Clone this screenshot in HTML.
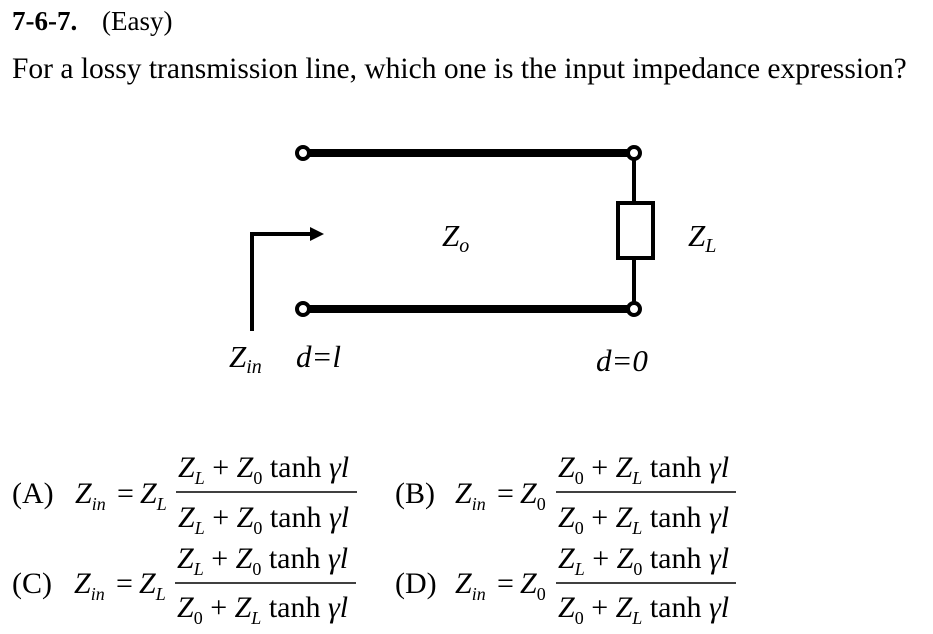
<!DOCTYPE html>
<html><head><style>body{margin:0;background:#fff}svg{display:block}text{font-family:"Liberation Serif",serif;fill:#000}</style></head><body>
<svg width="933" height="634" viewBox="0 0 933 634">
<text x="12" y="30" font-size="27" font-weight="bold">7-6-7.</text><text x="102" y="30" font-size="27">(Easy)</text>
<text x="12" y="78" font-size="29.5">For a lossy transmission line, which one is the input impedance expression?</text>
<g stroke="#000" fill="none">
<line x1="303" y1="153" x2="634" y2="153" stroke-width="8"/>
<line x1="303" y1="309" x2="634" y2="309" stroke-width="8"/>
<line x1="634" y1="153" x2="634" y2="309" stroke-width="4"/>
<rect x="618" y="203" width="35" height="55" stroke-width="4" fill="#fff"/>
<circle cx="303" cy="153" r="6" stroke-width="4" fill="#fff"/>
<circle cx="634" cy="153" r="6" stroke-width="4" fill="#fff"/>
<circle cx="303" cy="309" r="6" stroke-width="4" fill="#fff"/>
<circle cx="634" cy="309" r="6" stroke-width="4" fill="#fff"/>
<polyline points="252,331 252,234 312,234" stroke-width="4"/>
</g>
<polygon points="310,227 324,234 310,241" fill="#000"/>
<g font-style="italic" font-size="31">
<text x="442" y="246">Z<tspan font-size="20" dy="6">o</tspan></text>
<text x="688" y="246">Z<tspan font-size="20" dy="6">L</tspan></text>
<text x="229" y="367">Z<tspan font-size="20" dy="6">in</tspan></text>
<text x="296" y="367">d=l</text>
<text x="596" y="371">d=0</text>
</g>
<g font-size="30">
<text x="12" y="503">(A)</text>
<text x="75" y="503" font-style="italic">Z<tspan font-size="18" dy="7">in</tspan></text>
<text x="117" y="503">=</text>
<text x="140" y="503" font-style="italic">Z<tspan font-size="18" dy="7">L</tspan></text>
<line x1="176" y1="492" x2="357" y2="492" stroke="#000" stroke-width="1.5"/>
<text x="178" y="477"><tspan font-style="italic">Z</tspan><tspan font-size="18" dy="7" font-style="italic">L</tspan><tspan dy="-7"> + </tspan><tspan font-style="italic">Z</tspan><tspan font-size="18" dy="7">0</tspan><tspan dy="-7"> tanh </tspan><tspan font-style="italic">γl</tspan></text>
<text x="178" y="527"><tspan font-style="italic">Z</tspan><tspan font-size="18" dy="7" font-style="italic">L</tspan><tspan dy="-7"> + </tspan><tspan font-style="italic">Z</tspan><tspan font-size="18" dy="7">0</tspan><tspan dy="-7"> tanh </tspan><tspan font-style="italic">γl</tspan></text>

<text x="12" y="593">(C)</text>
<text x="74" y="593" font-style="italic">Z<tspan font-size="18" dy="7">in</tspan></text>
<text x="116" y="593">=</text>
<text x="139" y="593" font-style="italic">Z<tspan font-size="18" dy="7">L</tspan></text>
<line x1="175" y1="583" x2="356" y2="583" stroke="#000" stroke-width="1.5"/>
<text x="177" y="568"><tspan font-style="italic">Z</tspan><tspan font-size="18" dy="7" font-style="italic">L</tspan><tspan dy="-7"> + </tspan><tspan font-style="italic">Z</tspan><tspan font-size="18" dy="7">0</tspan><tspan dy="-7"> tanh </tspan><tspan font-style="italic">γl</tspan></text>
<text x="177" y="617"><tspan font-style="italic">Z</tspan><tspan font-size="18" dy="7">0</tspan><tspan dy="-7"> + </tspan><tspan font-style="italic">Z</tspan><tspan font-size="18" dy="7" font-style="italic">L</tspan><tspan dy="-7"> tanh </tspan><tspan font-style="italic">γl</tspan></text>

<text x="395" y="503">(B)</text>
<text x="455" y="503" font-style="italic">Z<tspan font-size="18" dy="7">in</tspan></text>
<text x="497" y="503">=</text>
<text x="520" y="503" font-style="italic">Z<tspan font-size="18" dy="7" font-style="normal">0</tspan></text>
<line x1="556" y1="492" x2="736" y2="492" stroke="#000" stroke-width="1.5"/>
<text x="558" y="477"><tspan font-style="italic">Z</tspan><tspan font-size="18" dy="7">0</tspan><tspan dy="-7"> + </tspan><tspan font-style="italic">Z</tspan><tspan font-size="18" dy="7" font-style="italic">L</tspan><tspan dy="-7"> tanh </tspan><tspan font-style="italic">γl</tspan></text>
<text x="558" y="527"><tspan font-style="italic">Z</tspan><tspan font-size="18" dy="7">0</tspan><tspan dy="-7"> + </tspan><tspan font-style="italic">Z</tspan><tspan font-size="18" dy="7" font-style="italic">L</tspan><tspan dy="-7"> tanh </tspan><tspan font-style="italic">γl</tspan></text>

<text x="395" y="593">(D)</text>
<text x="455" y="593" font-style="italic">Z<tspan font-size="18" dy="7">in</tspan></text>
<text x="497" y="593">=</text>
<text x="520" y="593" font-style="italic">Z<tspan font-size="18" dy="7" font-style="normal">0</tspan></text>
<line x1="556" y1="583" x2="736" y2="583" stroke="#000" stroke-width="1.5"/>
<text x="558" y="568"><tspan font-style="italic">Z</tspan><tspan font-size="18" dy="7" font-style="italic">L</tspan><tspan dy="-7"> + </tspan><tspan font-style="italic">Z</tspan><tspan font-size="18" dy="7">0</tspan><tspan dy="-7"> tanh </tspan><tspan font-style="italic">γl</tspan></text>
<text x="558" y="617"><tspan font-style="italic">Z</tspan><tspan font-size="18" dy="7">0</tspan><tspan dy="-7"> + </tspan><tspan font-style="italic">Z</tspan><tspan font-size="18" dy="7" font-style="italic">L</tspan><tspan dy="-7"> tanh </tspan><tspan font-style="italic">γl</tspan></text>
</g>
</svg>
</body></html>
